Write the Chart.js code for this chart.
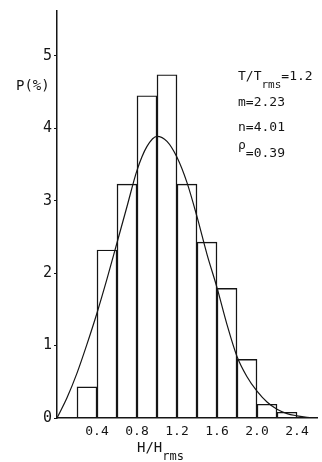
<!DOCTYPE html>
<html>
<head>
<meta charset="utf-8">
<script src="https://cdn.jsdelivr.net/npm/chart.js@4.4.1/dist/chart.umd.min.js"></script>
<style>
  html, body { margin: 0; padding: 0; background: #fff; }
  #wrap { position: relative; width: 322px; height: 462px; }
</style>
</head>
<body>
<div id="wrap"><canvas id="histChart"></canvas></div>
<script>
// histogram: bin centres (H/Hrms, width 0.2) and measured P(%)
const binCenters = [0.3, 0.5, 0.7, 0.9, 1.1, 1.3, 1.5, 1.7, 1.9, 2.1, 2.3];
const binValues  = [0.43, 2.32, 3.23, 4.45, 4.74, 3.23, 2.43, 1.79, 0.81, 0.19, 0.08];

// fitted curve
const curveH = [0, 0.1, 0.2, 0.3, 0.4, 0.5, 0.6, 0.7, 0.8, 0.9, 1.0, 1.1, 1.2, 1.3,
                1.4, 1.5, 1.6, 1.7, 1.8, 1.9, 2.0, 2.1, 2.2, 2.3, 2.4, 2.5, 2.6];
const curveP = [0, 0.28, 0.62, 1.02, 1.45, 1.92, 2.42, 2.92, 3.42, 3.75, 3.89, 3.82, 3.6, 3.25,
                2.78, 2.26, 1.80, 1.29, 0.85, 0.57, 0.37, 0.22, 0.12, 0.06, 0.03, 0.01, 0];

const xTicks = [0.4, 0.8, 1.2, 1.6, 2.0, 2.4];
const yTicks = [0, 1, 2, 3, 4, 5];

const INK = "#151515";
const MONO = '"DejaVu Sans Mono", monospace';

// free text: axis names and the parameter block
const textPlugin = {
    id: "figureText",
    afterDraw(chart) {
        const ctx = chart.ctx;
        ctx.save();
        ctx.fillStyle = INK;
        ctx.textBaseline = "alphabetic";

        // y name
        ctx.font = "14px " + MONO;
        ctx.fillText("P(%)", 16, 90);

        // x name with subscript
        ctx.font = "14px " + MONO;
        ctx.fillText("H/H", 137, 452);
        let w = ctx.measureText("H/H").width;
        ctx.font = "12px " + MONO;
        ctx.fillText("rms", 137 + w, 460);

        // parameters
        const x0 = 238;
        ctx.font = "13px " + MONO;
        ctx.fillText("T/T", x0, 80);
        w = ctx.measureText("T/T").width;
        ctx.font = "11px " + MONO;
        ctx.fillText("rms", x0 + w, 88);
        const w2 = ctx.measureText("rms").width;
        ctx.font = "13px " + MONO;
        ctx.fillText("=1.2", x0 + w + w2, 80);
        ctx.fillText("m=2.23", x0, 106);
        ctx.fillText("n=4.01", x0, 131);
        ctx.fillText("\u03c1", x0, 149);
        ctx.fillText("=0.39", x0 + ctx.measureText("\u03c1").width, 157);
        ctx.restore();
    }
};

const ctx = document.getElementById("histChart").getContext("2d");
new Chart(ctx, {
    type: "bar",
    data: {
        datasets: [{
            type: "line",
            label: "fit",
            data: curveH.map((h, i) => ({ x: h, y: curveP[i] })),
            borderColor: INK,
            borderWidth: 1.2,
            pointRadius: 0,
            fill: false,
            cubicInterpolationMode: "monotone",
            order: 0
        }, {
            type: "bar",
            label: "measured",
            data: binCenters.map((c, i) => ({ x: c, y: binValues[i] })),
            backgroundColor: "rgba(255,255,255,0)",
            borderColor: INK,
            borderWidth: 0.8,
            barPercentage: 1,
            categoryPercentage: 1,
            order: 1
        }]
    },
    options: {
        responsive: true,
        maintainAspectRatio: false,
        animation: false,
        layout: { padding: { top: 9, right: 5, left: 0, bottom: 0 } },
        plugins: {
            legend: { display: false },
            tooltip: { enabled: false }
        },
        scales: {
            x: {
                type: "linear",
                min: 0,
                max: 2.6,
                offset: false,
                afterBuildTicks: (s) => { s.ticks = xTicks.map(v => ({ value: v })); },
                afterFit: (s) => { s.height = 44; },
                ticks: {
                    color: INK,
                    font: { family: MONO, size: 13 },
                    padding: 6,
                    maxRotation: 0,
                    callback: (v) => Number(v).toFixed(1)
                },
                grid: { display: false, drawTicks: false },
                border: { display: true, color: INK, width: 1.5 }
            },
            y: {
                min: 0,
                max: 5.62,
                afterBuildTicks: (s) => { s.ticks = yTicks.map(v => ({ value: v })); },
                afterFit: (s) => { s.width = 57; },
                ticks: {
                    color: INK,
                    font: { family: MONO, size: 15 },
                    padding: 2
                },
                grid: { display: true, drawOnChartArea: false, drawTicks: true, tickLength: 3, color: INK },
                border: { display: true, color: INK, width: 1.5 }
            }
        }
    },
    plugins: [textPlugin]
});
</script>
</body>
</html>
